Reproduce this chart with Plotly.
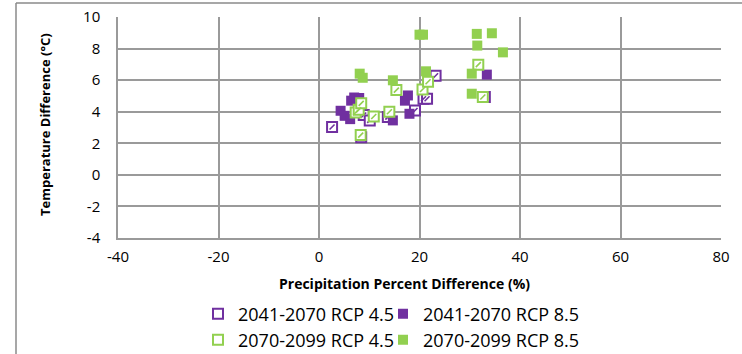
import plotly.graph_objects as go

# Precipitation (% difference) vs temperature (°C difference) per scenario
p4541_x = [2.6, 8.9, 10.1, 13.7, 8.4, 19.1, 20.8, 21.5, 23.2, 33.0]
p4541_y = [3.03, 3.79, 3.45, 3.66, 2.39, 4.08, 4.82, 4.82, 6.28, 4.93]

p8541_x = [4.3, 5.1, 6.2, 6.4, 7.0, 8.0, 14.7, 17.1, 17.7, 18.0, 33.4]
p8541_y = [4.06, 3.74, 3.53, 4.70, 4.90, 4.87, 3.45, 4.70, 5.03, 3.87, 6.35]

p4570_x = [7.3, 7.9, 8.4, 8.3, 10.9, 14.0, 15.4, 20.6, 21.7, 31.7, 32.6]
p4570_y = [3.95, 4.12, 4.53, 2.52, 3.70, 4.00, 5.37, 5.41, 5.90, 6.98, 4.93]

p8570_x = [8.1, 8.7, 14.7, 20.0, 20.7, 21.3, 30.4, 30.4, 31.4, 31.5, 34.4, 36.6]
p8570_y = [6.41, 6.15, 5.99, 8.88, 8.88, 6.56, 6.41, 5.14, 8.93, 8.19, 8.97, 7.76]

names = ["2041-2070 RCP 4.5", "2041-2070 RCP 8.5", "2070-2099 RCP 4.5", "2070-2099 RCP 8.5"]
x_ticks = [-40, -20, 0, 20, 40, 60, 80]
y_ticks = [-4, -2, 0, 2, 4, 6, 8, 10]

PURPLE = "#7030A0"
GREEN = "#92D050"
FONT = "Open Sans"
GRID = "#9a9a9a"

fig = go.Figure()


def hatched(x, y, color, name, legend):
    # outlined square with a small diagonal stroke inside
    fig.add_trace(go.Scatter(
        x=x, y=y, mode="markers", name=name, legend=legend,
        marker=dict(symbol="square", size=10, color="white",
                    line=dict(color=color, width=2)),
    ))
    fig.add_trace(go.Scatter(
        x=x, y=y, mode="markers", showlegend=False, hoverinfo="skip",
        marker=dict(symbol="line-ne", size=5,
                    line=dict(color=color, width=1.6)),
    ))


def solid(x, y, color, name, legend):
    fig.add_trace(go.Scatter(
        x=x, y=y, mode="markers", name=name, legend=legend,
        marker=dict(symbol="square", size=10, color=color,
                    line=dict(color=color, width=0)),
    ))


hatched(p4541_x, p4541_y, PURPLE, names[0], "legend")
solid(p8541_x, p8541_y, PURPLE, names[1], "legend2")
hatched(p4570_x, p4570_y, GREEN, names[2], "legend3")
solid(p8570_x, p8570_y, GREEN, names[3], "legend4")

W, H = 742, 354
ML, MR, MT, MB = 118, 21, 17, 116
PW, PH = W - ML - MR, H - MT - MB


def px_x(v):
    return (v - ML) / PW


def px_y(v):
    return (H - MB - v) / PH


def legend_at(left, middle):
    return dict(
        x=px_x(left), y=px_y(middle),
        orientation="h", xanchor="left", yanchor="middle",
        font=dict(family=FONT, size=18, color="#000000"),
        bgcolor="rgba(0,0,0,0)", borderwidth=0, itemwidth=30,
    )


fig.update_layout(
    width=W, height=H,
    margin=dict(l=ML, r=MR, t=MT, b=MB, autoexpand=False),
    paper_bgcolor="white", plot_bgcolor="white",
    font=dict(family=FONT, size=15, color="#000000"),
    legend=legend_at(198, 314),
    legend2=legend_at(383, 314),
    legend3=legend_at(198, 340),
    legend4=legend_at(383, 340),
    xaxis=dict(
        range=[-40, 80], tickvals=x_ticks, ticktext=[str(v) for v in x_ticks],
        showgrid=True, gridcolor=GRID, gridwidth=1.5,
        zeroline=True, zerolinecolor=GRID, zerolinewidth=2,
        showline=True, linecolor=GRID, linewidth=1.5,
        ticks="", ticklabelstandoff=4,
        tickfont=dict(family=FONT, size=15),
    ),
    yaxis=dict(
        range=[-4, 10], tickvals=y_ticks, ticktext=[str(v) for v in y_ticks],
        showgrid=True, gridcolor=GRID, gridwidth=1.5,
        zeroline=True, zerolinecolor=GRID, zerolinewidth=2,
        showline=True, linecolor=GRID, linewidth=1.5,
        ticks="", ticklabelstandoff=13,
        tickfont=dict(family=FONT, size=15),
    ),
    annotations=[
        dict(text="<b>Precipitation Percent Difference (%)</b>",
             xref="paper", yref="paper", x=px_x(404), y=px_y(283),
             xanchor="center", yanchor="middle", showarrow=False,
             font=dict(family=FONT, size=14)),
        dict(text="<b>Temperature Difference (°C)</b>",
             xref="paper", yref="paper", x=px_x(45), y=px_y(125),
             xanchor="center", yanchor="middle", showarrow=False,
             textangle=-90, font=dict(family=FONT, size=13)),
    ],
    shapes=[
        dict(type="line", xref="paper", yref="paper",
             x0=px_x(16), x1=px_x(16), y0=px_y(3), y1=px_y(360),
             line=dict(color="#8a8a8a", width=1.5)),
        dict(type="line", xref="paper", yref="paper",
             x0=px_x(16), x1=px_x(750), y0=px_y(3), y1=px_y(3),
             line=dict(color="#8a8a8a", width=1.5)),
    ],
)

fig.write_html("out.html")
